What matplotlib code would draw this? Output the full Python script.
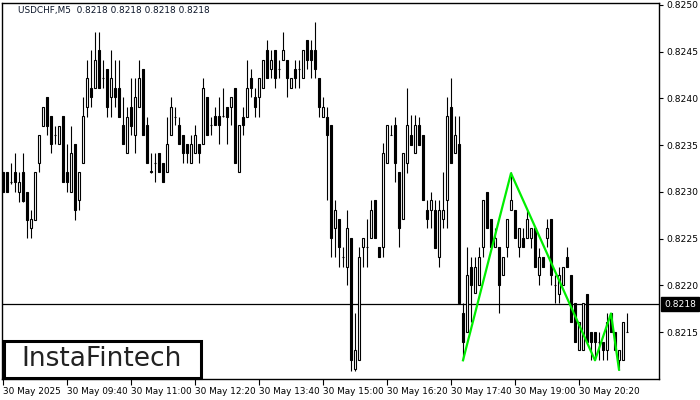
import numpy as np
import pandas as pd
import matplotlib
matplotlib.use("Agg")
import matplotlib.pyplot as plt
import matplotlib.transforms as mtransforms
from matplotlib.patches import Rectangle

# USDCHF M5 candles, 30 May 2025 from 08:20
opens = [
    0.82321, 0.82321, 0.82311, 0.82321, 0.82300, 0.82321, 0.82300, 0.82261, 0.82270, 0.82331,
    0.82371, 0.82402, 0.82381, 0.82361, 0.82351, 0.82381, 0.82321, 0.82300, 0.82351, 0.82291,
    0.82331, 0.82391, 0.82411, 0.82411, 0.82452, 0.82422, 0.82431, 0.82402, 0.82411, 0.82411,
    0.82372, 0.82342, 0.82391, 0.82361, 0.82391, 0.82431, 0.82372, 0.82321, 0.82331, 0.82342,
    0.82331, 0.82321, 0.82361, 0.82380, 0.82372, 0.82361, 0.82351, 0.82331, 0.82342, 0.82351,
    0.82351, 0.82402, 0.82372, 0.82381, 0.82381, 0.82381, 0.82391, 0.82391, 0.82411, 0.82321,
    0.82380, 0.82380, 0.82422, 0.82402, 0.82402, 0.82411, 0.82452, 0.82431, 0.82452, 0.82431,
    0.82441, 0.82441, 0.82411, 0.82431, 0.82431, 0.82422, 0.82462, 0.82452, 0.82452, 0.82422,
    0.82380, 0.82380, 0.82372, 0.82261, 0.82271, 0.82230, 0.82220, 0.82251, 0.82111, 0.82120,
    0.82241, 0.82241, 0.82251, 0.82291, 0.82241, 0.82241, 0.82331, 0.82361, 0.82372, 0.82321,
    0.82271, 0.82331, 0.82361, 0.82342, 0.82372, 0.82361, 0.82281, 0.82281, 0.82281, 0.82230,
    0.82271, 0.82291, 0.82391, 0.82342, 0.82351, 0.82171, 0.82150, 0.82220, 0.82192, 0.82200,
    0.82241, 0.82300, 0.82271, 0.82241, 0.82241, 0.82211, 0.82241, 0.82281, 0.82281, 0.82241,
    0.82251, 0.82251, 0.82251, 0.82261, 0.82211, 0.82230, 0.82251, 0.82271, 0.82200, 0.82191,
    0.82200, 0.82230, 0.82211, 0.82181, 0.82131, 0.82131, 0.82191, 0.82150, 0.82150, 0.82140,
    0.82140, 0.82131, 0.82171, 0.82150, 0.82120, 0.82120, 0.82150,
]
highs = [
    0.82321, 0.82321, 0.82331, 0.82342, 0.82321, 0.82342, 0.82300, 0.82281, 0.82321, 0.82361,
    0.82391, 0.82402, 0.82381, 0.82371, 0.82371, 0.82381, 0.82351, 0.82371, 0.82351, 0.82321,
    0.82402, 0.82441, 0.82452, 0.82471, 0.82471, 0.82441, 0.82431, 0.82452, 0.82441, 0.82441,
    0.82402, 0.82391, 0.82422, 0.82422, 0.82441, 0.82431, 0.82380, 0.82342, 0.82342, 0.82342,
    0.82331, 0.82380, 0.82402, 0.82391, 0.82380, 0.82361, 0.82351, 0.82361, 0.82372, 0.82351,
    0.82422, 0.82402, 0.82380, 0.82391, 0.82402, 0.82411, 0.82391, 0.82402, 0.82411, 0.82372,
    0.82391, 0.82441, 0.82431, 0.82411, 0.82422, 0.82441, 0.82462, 0.82452, 0.82452, 0.82441,
    0.82471, 0.82441, 0.82422, 0.82441, 0.82441, 0.82452, 0.82462, 0.82462, 0.82482, 0.82422,
    0.82402, 0.82391, 0.82372, 0.82291, 0.82271, 0.82241, 0.82281, 0.82251, 0.82171, 0.82241,
    0.82251, 0.82271, 0.82291, 0.82291, 0.82241, 0.82352, 0.82372, 0.82372, 0.82380, 0.82321,
    0.82342, 0.82411, 0.82382, 0.82382, 0.82380, 0.82361, 0.82291, 0.82300, 0.82291, 0.82291,
    0.82321, 0.82402, 0.82422, 0.82381, 0.82381, 0.82181, 0.82241, 0.82230, 0.82230, 0.82241,
    0.82291, 0.82300, 0.82271, 0.82261, 0.82241, 0.82230, 0.82271, 0.82321, 0.82281, 0.82261,
    0.82261, 0.82281, 0.82261, 0.82261, 0.82240, 0.82230, 0.82271, 0.82271, 0.82211, 0.82220,
    0.82220, 0.82241, 0.82211, 0.82181, 0.82161, 0.82181, 0.82191, 0.82150, 0.82150, 0.82150,
    0.82140, 0.82171, 0.82171, 0.82150, 0.82131, 0.82161, 0.82171,
]
lows = [
    0.82300, 0.82300, 0.82309, 0.82300, 0.82289, 0.82289, 0.82251, 0.82251, 0.82270, 0.82321,
    0.82371, 0.82361, 0.82342, 0.82351, 0.82351, 0.82311, 0.82300, 0.82300, 0.82270, 0.82281,
    0.82331, 0.82380, 0.82391, 0.82411, 0.82411, 0.82411, 0.82380, 0.82380, 0.82391, 0.82380,
    0.82351, 0.82342, 0.82361, 0.82342, 0.82391, 0.82361, 0.82331, 0.82320, 0.82311, 0.82321,
    0.82311, 0.82321, 0.82361, 0.82372, 0.82351, 0.82331, 0.82331, 0.82331, 0.82342, 0.82331,
    0.82351, 0.82361, 0.82361, 0.82372, 0.82351, 0.82380, 0.82351, 0.82372, 0.82331, 0.82321,
    0.82361, 0.82380, 0.82402, 0.82380, 0.82380, 0.82411, 0.82422, 0.82422, 0.82411, 0.82422,
    0.82441, 0.82402, 0.82411, 0.82411, 0.82411, 0.82422, 0.82431, 0.82422, 0.82422, 0.82380,
    0.82380, 0.82291, 0.82230, 0.82230, 0.82220, 0.82220, 0.82200, 0.82109, 0.82109, 0.82120,
    0.82220, 0.82220, 0.82251, 0.82251, 0.82230, 0.82230, 0.82331, 0.82361, 0.82311, 0.82241,
    0.82271, 0.82320, 0.82350, 0.82342, 0.82350, 0.82291, 0.82261, 0.82261, 0.82240, 0.82220,
    0.82261, 0.82261, 0.82331, 0.82342, 0.82181, 0.82120, 0.82150, 0.82161, 0.82192, 0.82200,
    0.82230, 0.82261, 0.82241, 0.82241, 0.82171, 0.82211, 0.82230, 0.82281, 0.82251, 0.82230,
    0.82241, 0.82251, 0.82240, 0.82220, 0.82200, 0.82220, 0.82241, 0.82200, 0.82181, 0.82181,
    0.82200, 0.82220, 0.82161, 0.82140, 0.82131, 0.82131, 0.82140, 0.82120, 0.82120, 0.82120,
    0.82120, 0.82120, 0.82150, 0.82131, 0.82110, 0.82120, 0.82150,
]
closes = [
    0.82300, 0.82300, 0.82311, 0.82311, 0.82311, 0.82290, 0.82270, 0.82271, 0.82321, 0.82361,
    0.82391, 0.82371, 0.82351, 0.82361, 0.82371, 0.82311, 0.82311, 0.82342, 0.82281, 0.82321,
    0.82381, 0.82422, 0.82402, 0.82441, 0.82411, 0.82422, 0.82391, 0.82422, 0.82402, 0.82380,
    0.82351, 0.82380, 0.82371, 0.82402, 0.82422, 0.82361, 0.82331, 0.82322, 0.82331, 0.82321,
    0.82311, 0.82351, 0.82391, 0.82380, 0.82351, 0.82342, 0.82342, 0.82351, 0.82361, 0.82342,
    0.82411, 0.82361, 0.82372, 0.82372, 0.82372, 0.82381, 0.82380, 0.82402, 0.82331, 0.82372,
    0.82372, 0.82411, 0.82411, 0.82391, 0.82422, 0.82441, 0.82422, 0.82441, 0.82422, 0.82431,
    0.82452, 0.82422, 0.82422, 0.82422, 0.82431, 0.82452, 0.82441, 0.82441, 0.82431, 0.82391,
    0.82391, 0.82361, 0.82251, 0.82281, 0.82241, 0.82230, 0.82261, 0.82120, 0.82131, 0.82230,
    0.82251, 0.82241, 0.82281, 0.82251, 0.82230, 0.82342, 0.82372, 0.82361, 0.82331, 0.82261,
    0.82342, 0.82372, 0.82350, 0.82372, 0.82350, 0.82291, 0.82271, 0.82291, 0.82240, 0.82281,
    0.82281, 0.82381, 0.82331, 0.82361, 0.82181, 0.82140, 0.82211, 0.82200, 0.82220, 0.82230,
    0.82291, 0.82261, 0.82241, 0.82251, 0.82200, 0.82230, 0.82271, 0.82291, 0.82251, 0.82261,
    0.82241, 0.82271, 0.82261, 0.82220, 0.82230, 0.82220, 0.82261, 0.82211, 0.82200, 0.82211,
    0.82220, 0.82220, 0.82161, 0.82140, 0.82161, 0.82181, 0.82140, 0.82140, 0.82140, 0.82140,
    0.82131, 0.82161, 0.82150, 0.82131, 0.82131, 0.82161, 0.82150,
]

# pattern outline (candle index, price)
pattern_idx = [115, 127, 148, 152, 154]
pattern_px = [0.82120, 0.82320, 0.82120, 0.82170, 0.82110]

bid = 0.8218
title = "USDCHF,M5  0.8218 0.8218 0.8218 0.8218"
y_ticks = [0.8215, 0.8220, 0.8225, 0.8230, 0.8235, 0.8240, 0.8245, 0.8250]

times = pd.date_range("2025-05-30 08:20", periods=len(opens), freq="5min")

plt.rcParams["font.family"] = ["DejaVu Sans"]
fig = plt.figure(figsize=(7, 4), dpi=100)
ax = fig.add_axes([2 / 700, 1 - 379 / 400, 657 / 700, 376 / 400])

o = np.array(opens)
h = np.array(highs)
l = np.array(lows)
c = np.array(closes)
x = np.arange(len(o))

ax.vlines(x, l, h, color="black", linewidth=0.8, zorder=2)
up = c > o
bottom = np.minimum(o, c)
height = np.abs(c - o)
ax.bar(x[up], height[up], bottom=bottom[up], width=0.5, facecolor="white",
       edgecolor="black", linewidth=0.8, zorder=3)
ax.bar(x[~up], height[~up], bottom=bottom[~up], width=0.5, facecolor="black",
       edgecolor="black", linewidth=0.8, zorder=3)

ax.axhline(bid, color="black", linewidth=0.9, zorder=1)
ax.plot(pattern_idx, pattern_px, color="#00ee00", linewidth=1.6, zorder=4)

ax.set_xlim(-0.25, 164)
ax.set_ylim(0.821, 0.82502)

ax.yaxis.tick_right()
ax.set_yticks(y_ticks)
ax.set_yticklabels([f"{v:.4f}" for v in y_ticks])
ax.tick_params(axis="y", direction="out", length=3, pad=2, labelsize=6.6,
               colors="black")

xt = list(range(0, len(o), 16))
labels = []
for k in xt:
    t = times[k]
    labels.append("30 May 2025" if k == 0 else t.strftime("%d %b %H:%M"))
ax.set_xticks(xt)
ax.set_xticklabels(labels, ha="left")
ax.tick_params(axis="x", direction="out", length=4, pad=1.5, labelsize=6.4,
               colors="black")

for s in ax.spines.values():
    s.set_linewidth(1.0)
    s.set_color("black")

ax.text(16 / 657, 1 - 8 / 376, title, transform=ax.transAxes, fontsize=6.4,
        va="center", ha="left", color="#0a1428")

trans = mtransforms.blended_transform_factory(ax.transAxes, ax.transData)
ax.text(1 + 5 / 657, bid, f"{bid:.4f}", transform=trans, fontsize=6.6,
        color="white", va="center", ha="left", clip_on=False,
        bbox=dict(boxstyle="square,pad=0.3", facecolor="black", edgecolor="black"))

# logo box
fig.add_artist(Rectangle((3.5 / 700, 1 - 378 / 400), 197 / 700, 37 / 400,
                         transform=fig.transFigure, facecolor="white",
                         edgecolor="black", linewidth=2.2, zorder=10))
fig.text(102 / 700, 1 - 359.5 / 400, "InstaFintech", fontsize=19,
         color="#222222", ha="center", va="center", zorder=11)

fig.savefig("out.png", dpi=100)
